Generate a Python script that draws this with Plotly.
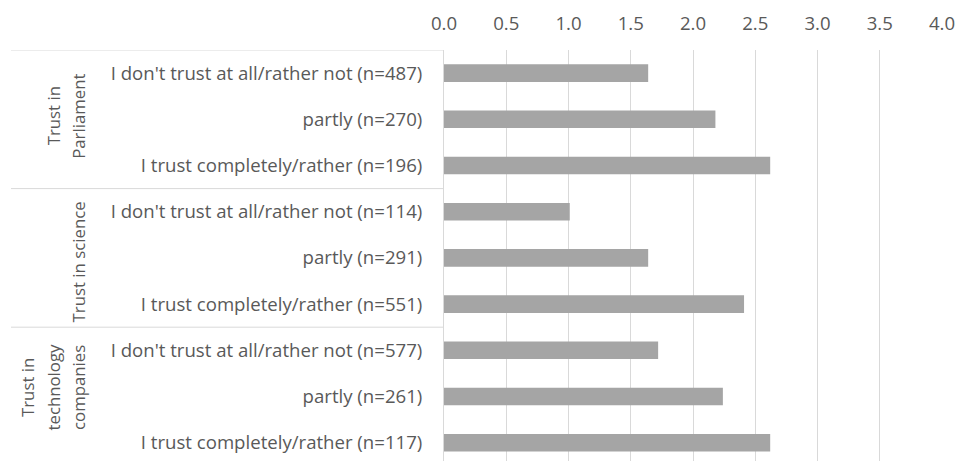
import plotly.graph_objects as go

# Survey groups (one entry per text line), response categories and mean scores
groups = [
    ["Trust in", "Parliament"],
    ["Trust in science"],
    ["Trust in", "technology", "companies"],
]
categories = [
    "I don't trust at all/rather not (n=487)",
    "partly (n=270)",
    "I trust completely/rather (n=196)",
    "I don't trust at all/rather not (n=114)",
    "partly (n=291)",
    "I trust completely/rather (n=551)",
    "I don't trust at all/rather not (n=577)",
    "partly (n=261)",
    "I trust completely/rather (n=117)",
]
values = [1.64, 2.18, 2.62, 1.01, 1.64, 2.41, 1.72, 2.24, 2.62]
x_ticks = [0.0, 0.5, 1.0, 1.5, 2.0, 2.5, 3.0, 3.5, 4.0]

FONT = "Open Sans"
FS_AXIS = 18.6
FS_GROUP = 16.8
TEXT = "#595959"
GRID = "#D9D9D9"
BAR = "#A5A5A5"

W, H = 957, 461
ML, MR, MT, MB = 444, 15, 50, 0
plot_w = W - ML - MR
row_px = 46.2
n_rows = len(categories)
per_group = n_rows // len(groups)

fig = go.Figure(
    go.Bar(
        x=values,
        y=categories,
        orientation="h",
        marker=dict(color=BAR, line=dict(width=0)),
        width=0.38,
        hoverinfo="x+y",
    )
)

# visible rows: the last group runs a little past the bottom edge
visible_rows = (H - MT - MB) / row_px

shapes = []
for g in range(len(groups)):
    y_line = g * per_group - 0.5
    shapes.append(dict(
        type="line", xref="paper", yref="y",
        x0=(11 - ML) / plot_w, x1=0, y0=y_line, y1=y_line,
        line=dict(color=GRID, width=1),
    ))

# rotated group labels, one annotation per line so the line pitch can be set
annotations = []
label_shift = [3, -4, 9]
line_pitch = 25.5
last_line_x = 78.5
for g, lines in enumerate(groups):
    n = len(lines)
    for i, line in enumerate(lines):
        annotations.append(dict(
            text=line, xref="paper", yref="y",
            x=(last_line_x - ML) / plot_w, y=g * per_group + (per_group - 1) / 2,
            xanchor="center", yanchor="middle", textangle=-90,
            showarrow=False, yshift=label_shift[g],
            xshift=-(n - 1 - i) * line_pitch,
            font=dict(family=FONT, size=FS_GROUP, color=TEXT),
        ))

fig.update_layout(
    width=W, height=H,
    margin=dict(l=ML, r=MR, t=MT, b=MB, pad=0),
    paper_bgcolor="white", plot_bgcolor="white",
    showlegend=False,
    bargap=0.62,
    shapes=shapes,
    annotations=annotations,
    font=dict(family=FONT, size=FS_AXIS, color=TEXT),
)
fig.update_xaxes(
    side="top", range=[0, 4], tickvals=x_ticks,
    ticktext=[f"{v:.1f}" for v in x_ticks],
    showgrid=True, gridcolor=GRID, gridwidth=1,
    zeroline=False, showline=False, ticks="",
    ticklabelstandoff=15,
    tickfont=dict(family=FONT, size=FS_AXIS, color=TEXT),
)
fig.update_yaxes(
    type="category", categoryorder="array", categoryarray=categories,
    range=[-0.5 + visible_rows, -0.5], autorange=False,
    showgrid=False, zeroline=False,
    showline=True, linecolor=GRID, linewidth=1,
    ticks="", ticklabelstandoff=17,
    tickfont=dict(family=FONT, size=FS_AXIS, color=TEXT),
)

fig.write_html("out.html")
